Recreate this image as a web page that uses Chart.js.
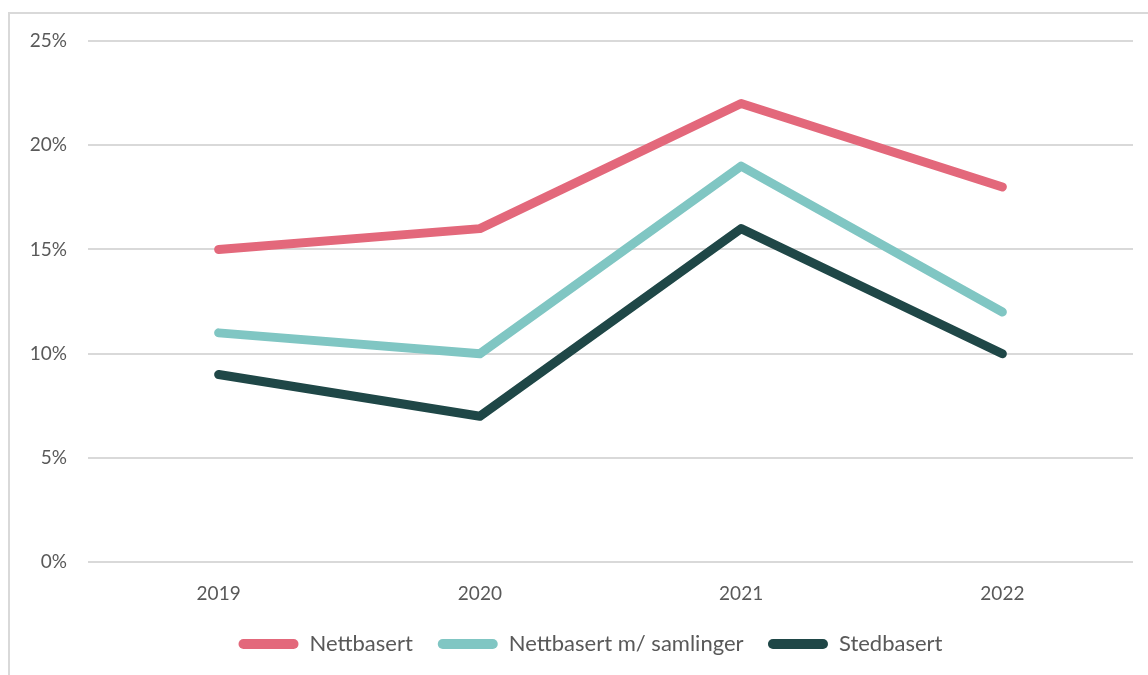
<!DOCTYPE html>
<html lang="no">
<head>
<meta charset="UTF-8">
<title>Nettbasert / Stedbasert</title>
<script src="https://cdn.jsdelivr.net/npm/chart.js"></script>
<style>
    html, body { margin: 0; padding: 0; background: #fff; }
    #frame {
        position: absolute; left: 8px; top: 12px; width: 1160px; height: 700px;
        border: 2px solid #d9d9d9; box-sizing: border-box;
    }
    #wrap { position: absolute; left: 0; top: 0; width: 1148px; height: 675px; }
</style>
</head>
<body>
<div id="frame"></div>
<div id="wrap"><canvas id="chart"></canvas></div>
<script>
    var years = ['2019', '2020', '2021', '2022'];
    var nettbasert = [15, 16, 22, 18];
    var nettbasertSamlinger = [11, 10, 19, 12];
    var stedbasert = [9, 7, 16, 10];
    var yTicks = [0, 5, 10, 15, 20, 25];

    var textColor = '#595959';
    var fontFamily = 'Lato, "Open Sans", sans-serif';
    var legendGap = '\u00a0\u00a0\u00a0'; // extra space between legend entries

    function line(label, data, color) {
        return {
            label: label,
            data: data,
            borderColor: color,
            backgroundColor: color,
            borderWidth: 9,
            borderCapStyle: 'round',
            borderJoinStyle: 'round',
            pointRadius: 0,
            pointHoverRadius: 0,
            tension: 0,
            fill: false
        };
    }

    // nudge the legend a little to the right, like the original
    var legendShift = {
        id: 'legendShift',
        afterLayout: function (chart) {
            if (chart.legend) {
                chart.legend.left += 24;
                chart.legend.right += 24;
            }
        }
    };

    var ctx = document.getElementById('chart').getContext('2d');
    new Chart(ctx, {
        type: 'line',
        data: {
            labels: years,
            datasets: [
                line('Nettbasert', nettbasert, '#e3687b'),
                line('Nettbasert m/ samlinger', nettbasertSamlinger, '#80c6c3'),
                line('Stedbasert', stedbasert, '#1f4747')
            ]
        },
        plugins: [legendShift],
        options: {
            responsive: true,
            maintainAspectRatio: false,
            animation: false,
            layout: { padding: { left: 0, top: 41, right: 15, bottom: 10 } },
            plugins: {
                tooltip: { enabled: false },
                legend: {
                    position: 'bottom',
                    labels: {
                        color: textColor,
                        font: { family: fontFamily, size: 22 },
                        boxWidth: 60,
                        boxHeight: 10,
                        padding: 8,
                        useBorderRadius: true,
                        borderRadius: 5,
                        generateLabels: function (chart) {
                            var n = chart.data.datasets.length;
                            return chart.data.datasets.map(function (ds, i) {
                                return {
                                    text: ds.label + (i < n - 1 ? legendGap : ''),
                                    fillStyle: ds.borderColor,
                                    strokeStyle: ds.borderColor,
                                    lineWidth: 0,
                                    fontColor: textColor,
                                    datasetIndex: i,
                                    borderRadius: 5
                                };
                            });
                        }
                    }
                }
            },
            scales: {
                x: {
                    offset: true,
                    grid: { display: false, drawTicks: false },
                    border: { display: false },
                    ticks: {
                        color: textColor,
                        font: { family: fontFamily, size: 19 },
                        padding: 20
                    }
                },
                y: {
                    min: 0,
                    max: 25,
                    afterFit: function (scale) { scale.width = 88; },
                    afterBuildTicks: function (scale) {
                        scale.ticks = yTicks.map(function (v) { return { value: v }; });
                    },
                    grid: { color: '#d9d9d9', lineWidth: 2, drawTicks: false },
                    border: { display: false },
                    ticks: {
                        color: textColor,
                        font: { family: fontFamily, size: 19 },
                        padding: 21,
                        callback: function (v) { return v + '%'; }
                    }
                }
            }
        }
    });
</script>
</body>
</html>
